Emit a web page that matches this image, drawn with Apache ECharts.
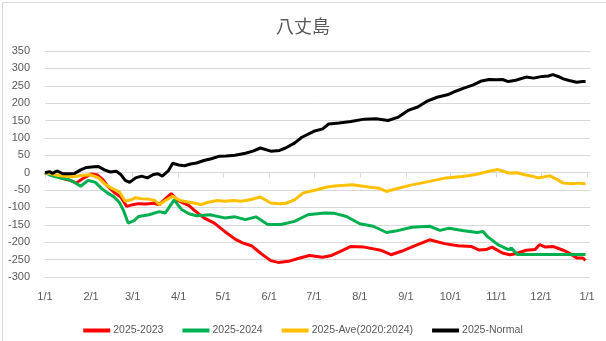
<!DOCTYPE html>
<html><head><meta charset="utf-8">
<script src="https://cdn.jsdelivr.net/npm/echarts@6/dist/echarts.min.js"></script>
<style>html,body{margin:0;padding:0;background:#fff;}#c{width:606px;height:341px;}</style>
</head><body><div id="c"></div>
<script>
const titleText = '八丈島';
const seriesNames = ['2025-2023', '2025-2024', '2025-Ave(2020:2024)', '2025-Normal'];
const seriesColors = ['#FF0000', '#00B050', '#FFC000', '#000000'];
const monthTicks = ['1/1','2/1','3/1','4/1','5/1','6/1','7/1','8/1','9/1','10/1','11/1','12/1','1/1/26'];
const yMin = -300, yMax = 350, yStep = 50;

const red = [['1/1',0],['1/5',-5],['1/10',-10],['1/14',-18],['1/18',-22],['1/22',-30],['1/26',-18],['2/1',-4],['2/5',-6],['2/9',-20],['2/12',-38],['2/17',-58],['2/21',-70],['2/25',-97],['3/1',-92],['3/5',-89],['3/10',-90],['3/15',-88],['3/19',-92],['3/23',-75],['3/27',-60],['3/31',-78],['4/4',-87],['4/8',-95],['4/11',-106],['4/18',-130],['4/25',-145],['5/2',-169],['5/9',-191],['5/14',-202],['5/20',-210],['5/26',-231],['6/2',-253],['6/7',-258],['6/14',-255],['6/21',-246],['6/28',-238],['7/7',-243],['7/13',-238],['7/19',-226],['7/26',-212],['8/4',-214],['8/15',-223],['8/22',-236],['8/29',-226],['9/6',-212],['9/17',-193],['9/27',-204],['10/6',-210],['10/15',-212],['10/20',-222],['10/25',-221],['10/29',-214],['11/5',-231],['11/10',-236],['11/14',-233],['11/21',-223],['11/27',-221],['11/30',-207],['12/4',-214],['12/9',-212],['12/16',-223],['12/20',-231],['12/25',-245],['12/29',-245],['12/31',-252]];
const green = [['1/1',0],['1/5',-8],['1/11',-15],['1/17',-20],['1/21',-28],['1/25',-39],['1/30',-22],['2/4',-28],['2/8',-45],['2/12',-58],['2/16',-68],['2/20',-85],['2/23',-110],['2/26',-145],['3/2',-138],['3/5',-126],['3/12',-121],['3/19',-112],['3/23',-116],['3/29',-78],['4/3',-106],['4/8',-118],['4/13',-124],['4/22',-121],['5/2',-130],['5/9',-127],['5/16',-135],['5/23',-127],['5/31',-149],['6/9',-149],['6/18',-140],['6/27',-121],['7/8',-116],['7/15',-117],['7/23',-126],['8/1',-147],['8/10',-154],['8/19',-172],['8/25',-168],['9/5',-157],['9/17',-154],['9/24',-166],['9/30',-160],['10/9',-166],['10/19',-172],['10/23',-169],['10/26',-184],['11/2',-207],['11/9',-221],['11/11',-217],['11/15',-235],['11/20',-235],['12/31',-235]];
const yellow = [['1/1',0],['1/5',-3],['1/10',-8],['1/15',-10],['1/20',-12],['1/25',-8],['2/1',-6],['2/6',-15],['2/11',-35],['2/15',-45],['2/20',-55],['2/24',-82],['2/28',-78],['3/3',-72],['3/7',-75],['3/12',-76],['3/16',-80],['3/19',-92],['3/23',-80],['3/28',-68],['4/2',-80],['4/8',-85],['4/12',-88],['4/16',-92],['4/21',-85],['4/27',-80],['5/2',-82],['5/8',-80],['5/13',-82],['5/19',-78],['5/26',-70],['6/2',-87],['6/8',-89],['6/12',-88],['6/18',-78],['6/24',-58],['7/3',-49],['7/10',-41],['7/15',-38],['7/27',-35],['8/7',-41],['8/14',-45],['8/19',-54],['8/25',-47],['9/5',-35],['9/17',-25],['9/28',-15],['10/9',-11],['10/18',-5],['10/22',-1],['10/27',4],['11/2',9],['11/5',5],['11/9',-1],['11/15',0],['11/20',-6],['11/25',-10],['11/29',-15],['12/3',-12],['12/7',-9],['12/12',-20],['12/16',-30],['12/22',-32],['12/26',-30],['12/31',-32]];
const black = [['1/1',0],['1/4',3],['1/6',-2],['1/9',5],['1/13',-3],['1/17',-3],['1/21',-2],['1/25',8],['1/29',15],['2/3',17],['2/6',18],['2/10',8],['2/14',2],['2/18',4],['2/21',-5],['2/24',-22],['2/27',-28],['3/3',-15],['3/7',-10],['3/11',-15],['3/15',-5],['3/18',-3],['3/21',-10],['3/25',5],['3/28',27],['4/1',22],['4/5',20],['4/9',25],['4/13',28],['4/18',35],['4/23',40],['4/28',47],['5/3',48],['5/9',50],['5/16',56],['5/21',62],['5/26',71],['6/2',62],['6/8',64],['6/12',71],['6/18',85],['6/23',102],['7/1',119],['7/7',126],['7/11',140],['7/18',143],['7/26',147],['8/4',154],['8/12',155],['8/20',150],['8/27',160],['9/3',180],['9/9',189],['9/15',205],['9/22',217],['9/29',224],['10/5',235],['10/10',243],['10/16',252],['10/22',264],['10/27',268],['11/1',267],['11/5',268],['11/9',262],['11/14',266],['11/21',275],['11/26',272],['12/2',277],['12/6',278],['12/9',282],['12/13',276],['12/16',270],['12/20',265],['12/25',260],['12/29',262],['12/31',262]];

// daily date categories: 2025/1/1 .. 2026/1/3
const categories = [];
for (let i = 0; i < 368; i++) {
  const d = new Date(2025, 0, 1 + i);
  const key = (d.getMonth() + 1) + '/' + d.getDate() + (d.getFullYear() === 2026 ? '/26' : '');
  categories.push(key);
}
const tickSet = new Set(monthTicks);
const seriesData = [red, green, yellow, black];

const chart = echarts.init(document.getElementById('c'));
chart.setOption({
  animation: false,
  backgroundColor: '#fff',
  graphic: [{ type: 'rect', left: 0, top: 0, z: 100, silent: true,
    shape: { x: 0.5, y: 0.5, width: 605, height: 340 },
    style: { fill: null, stroke: '#d9d9d9', lineWidth: 1 } }],
  title: { text: titleText, left: 'center', top: 12,
    textStyle: { fontFamily: 'Noto Sans CJK JP', fontSize: 18, fontWeight: 'normal', color: '#595959' } },
  grid: { left: 45, right: 16, top: 51, bottom: 64, containLabel: false },
  legend: { top: 320, left: 'center', itemGap: 19, itemWidth: 27, itemHeight: 4, icon: 'rect',
    textStyle: { fontFamily: 'Liberation Sans', fontSize: 10.5, color: '#595959', padding: [0, 0, 0, -2] },
    data: seriesNames },
  xAxis: { type: 'category', data: categories, boundaryGap: false,
    axisLine: { show: true, lineStyle: { color: '#d9d9d9' } },
    axisTick: { show: true, length: 5, lineStyle: { color: '#d9d9d9' }, interval: (i, v) => tickSet.has(v) },
    axisLabel: { interval: (i, v) => tickSet.has(v), formatter: v => v.split('/').slice(0, 2).join('/'),
      fontFamily: 'Liberation Sans', fontSize: 11, color: '#595959', margin: 14 },
    splitLine: { show: false } },
  yAxis: { type: 'value', min: yMin, max: yMax, interval: yStep,
    axisLine: { show: false }, axisTick: { show: false },
    axisLabel: { fontFamily: 'Liberation Sans', fontSize: 11, color: '#595959', margin: 15 },
    splitLine: { lineStyle: { color: '#d9d9d9', width: 1 } } },
  series: seriesNames.map((n, k) => ({
    name: n, type: 'line', data: seriesData[k], showSymbol: false, symbol: 'none',
    lineStyle: { color: seriesColors[k], width: 3 }, itemStyle: { color: seriesColors[k] },
    z: 2 + k
  }))
});
</script></body></html>
